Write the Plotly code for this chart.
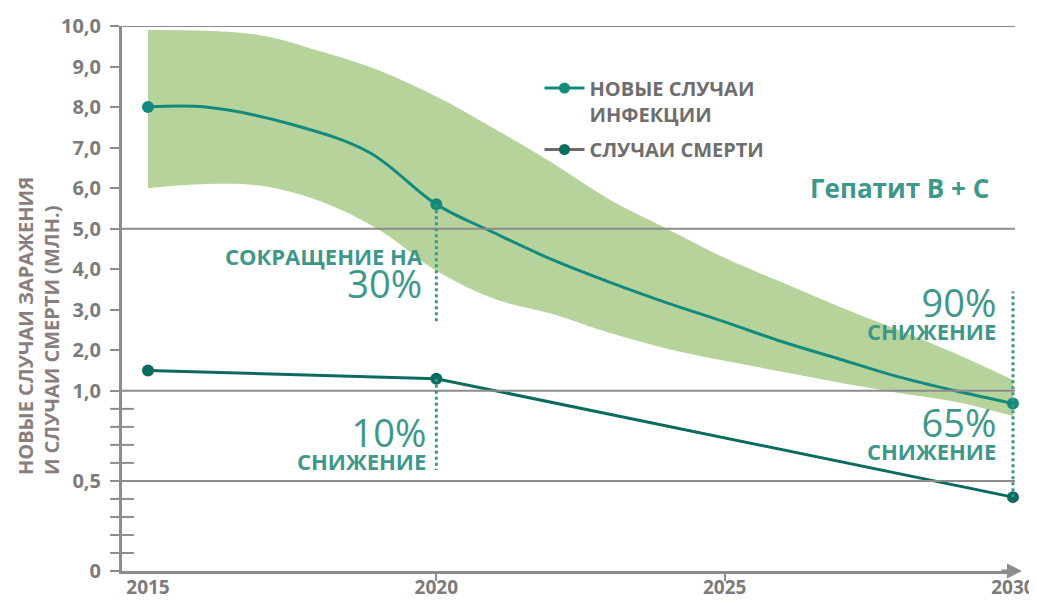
import plotly.graph_objects as go

# ---------------- data ----------------
milestone_years = [2015, 2020, 2030]
new_infections = [8.0, 5.6, 0.93]        # million
deaths = [1.5, 1.3, 0.41]                # million

curve_years = [2015, 2016, 2017.5, 2018.84, 2020, 2021, 2022, 2023,
               2024, 2025, 2026, 2027, 2028, 2029, 2030]
infection_curve = [8.0, 8.0, 7.57, 6.88, 5.6, 4.9, 4.24, 3.68,
                   3.17, 2.70, 2.21, 1.78, 1.35, 1.0, 0.93]

band_years = [2015, 2016, 2017, 2018, 2019, 2020, 2021, 2022, 2023, 2024,
              2025, 2026, 2027, 2028, 2029, 2030]
band_upper = [9.9, 9.88, 9.76, 9.37, 8.91, 8.26, 7.47, 6.63, 5.72, 5.0,
              4.28, 3.67, 3.07, 2.51, 1.92, 1.27]
band_lower = [6.0, 6.1, 6.05, 5.67, 4.98, 3.96, 3.27, 2.90, 2.43, 2.04,
              1.74, 1.47, 1.20, 0.99, 0.94, 0.86]

y_tick_values = [0, 0.5, 1, 2, 3, 4, 5, 6, 7, 8, 9, 10]
y_tick_text = ["0", "0,5", "1,0", "2,0", "3,0", "4,0", "5,0", "6,0", "7,0",
               "8,0", "9,0", "10,0"]
y_minor_values = [0.1, 0.2, 0.3, 0.4, 0.6, 0.7, 0.8, 0.9]
grid_values = [0.5, 1, 5, 10]

x_tick_values = [2015, 2020, 2025, 2030]
x_tick_text = ["2015", "2020", "2025", "2030"]
x_minor_ticks = [2020, 2025]

# ---------------- styling ----------------
TEAL = "#138a7c"
DARK_TEAL = "#0c6b5f"
BAND = "#b7d39c"
GRAY = "#8c8c8c"
LABEL_GRAY = "#7b7b7b"
TEXT_TEAL = "#3d978b"
FONT = "Open Sans, Liberation Sans, sans-serif"

X_MIN, X_MAX = 2014.549, 2030.035


def ty(v):
    """Broken y scale: 0-1 expanded, 1-10 compressed (as in the original)."""
    return v if v <= 1 else 1 + (v - 1) * 0.225


fig = go.Figure()

# uncertainty band
fig.add_trace(go.Scatter(x=band_years, y=[ty(v) for v in band_upper], mode="lines",
                         line=dict(width=0, shape="spline", color=BAND),
                         showlegend=False, hoverinfo="skip"))
fig.add_trace(go.Scatter(x=band_years, y=[ty(v) for v in band_lower], mode="lines",
                         line=dict(width=0, shape="spline", color=BAND),
                         fill="tonexty", fillcolor=BAND,
                         showlegend=False, hoverinfo="skip"))

# new infections curve + milestone markers
fig.add_trace(go.Scatter(x=curve_years, y=[ty(v) for v in infection_curve], mode="lines",
                         line=dict(width=3, shape="spline", smoothing=1.0, color=TEAL),
                         showlegend=False, hoverinfo="skip"))
fig.add_trace(go.Scatter(x=milestone_years, y=[ty(v) for v in new_infections], mode="markers",
                         marker=dict(size=12, color=TEAL), cliponaxis=False,
                         showlegend=False))

# deaths
fig.add_trace(go.Scatter(x=milestone_years, y=[ty(v) for v in deaths], mode="lines+markers",
                         line=dict(width=3, color=DARK_TEAL),
                         marker=dict(size=12, color=DARK_TEAL), cliponaxis=False,
                         showlegend=False))

# minor crossing ticks on the y axis (0 - 1 part)
fig.add_trace(go.Scatter(x=[X_MIN] * len(y_minor_values), y=[ty(v) for v in y_minor_values],
                         mode="markers", cliponaxis=False,
                         marker=dict(symbol="line-ew", size=17,
                                     line=dict(width=2, color=GRAY)),
                         showlegend=False, hoverinfo="skip"))

# legend entries
fig.add_trace(go.Scatter(x=[None], y=[None], mode="lines+markers",
                         name="НОВЫЕ СЛУЧАИ<br>ИНФЕКЦИИ",
                         line=dict(width=3, color=TEAL),
                         marker=dict(size=11, color=TEAL), legend="legend"))
fig.add_trace(go.Scatter(x=[None], y=[None], mode="lines+markers",
                         name="СЛУЧАИ СМЕРТИ",
                         line=dict(width=3, color="#6b6b6b"),
                         marker=dict(size=11, color=DARK_TEAL), legend="legend2"))

# gridlines
for g in grid_values:
    fig.add_shape(type="line", xref="paper", x0=0, x1=1, yref="y", y0=ty(g), y1=ty(g),
                  line=dict(color=GRAY, width=2), layer="above")

# dotted reference lines
dot = dict(color=TEXT_TEAL, width=3, dash="dot")
fig.add_shape(type="line", x0=2020, x1=2020, y0=ty(new_infections[1]), y1=ty(2.7),
              line=dot, layer="above")
fig.add_shape(type="line", x0=2020, x1=2020, y0=ty(deaths[1]), y1=ty(0.56),
              line=dot, layer="above")
fig.add_shape(type="line", x0=2030, x1=2030, y0=ty(deaths[2]), y1=ty(3.45),
              line=dot, layer="above")


# text annotations (two-line groups share one text block)
def note(text, xp, yp, size, yanchor="bottom", bold=False):
    fig.add_annotation(text=text, xref="paper", yref="paper", x=xp, y=yp,
                       xanchor="right", yanchor=yanchor, align="right", showarrow=False,
                       font=dict(family=FONT, size=size, color=TEXT_TEAL,
                                 weight="bold" if bold else "normal"))


BIG = "<span style='font-size:38px'>{}</span>"
SMALL = "<b><span style='font-size:22px'>{}</span></b>"

note(SMALL.format("СОКРАЩЕНИЕ НА") + "<br>" + BIG.format("30%"), 0.3393, 0.4771, 25)
note(BIG.format("10%") + "<br>" + SMALL.format("СНИЖЕНИЕ"), 0.3427, 0.1705, 18)
note(BIG.format("90%") + "<br>" + SMALL.format("СНИЖЕНИЕ"), 0.981, 0.4085, 18)
note(BIG.format("65%") + "<br>" + SMALL.format("СНИЖЕНИЕ"), 0.981, 0.1890, 18)
note("Гепатит В + С", 0.9731, 0.7028, 26, yanchor="middle", bold=True)

# y axis title
fig.add_annotation(text="НОВЫЕ СЛУЧАИ ЗАРАЖЕНИЯ<br>И СЛУЧАИ СМЕРТИ (МЛН.)",
                   xref="paper", yref="paper", x=-0.094, y=0.4495,
                   xanchor="center", yanchor="middle", textangle=-90, align="left",
                   showarrow=False,
                   font=dict(family=FONT, size=20, color="#8a7d7d", weight="bold"))

# x axis arrow head
fig.add_annotation(text="", xref="paper", yref="paper", x=1.0078, y=0,
                   ax=-22, ay=0, showarrow=True, arrowhead=2, arrowsize=1,
                   arrowwidth=3, arrowcolor=GRAY)

legend_font = dict(family=FONT, size=20, color="#6e6e6e", weight="bold")
# the page body adds an 8px offset, so the figure is 8px smaller than the window
fig.update_layout(
    width=1029, height=596,
    margin=dict(l=114, r=22, t=18, b=33),
    paper_bgcolor="white", plot_bgcolor="white",
    legend=dict(x=0.4675, y=0.922, xanchor="left", yanchor="top",
                font=legend_font, valign="top", itemwidth=40,
                bgcolor="rgba(0,0,0,0)"),
    legend2=dict(x=0.4675, y=0.8092, xanchor="left", yanchor="top",
                 font=legend_font, valign="top", itemwidth=40,
                 bgcolor="rgba(0,0,0,0)"),
    xaxis=dict(range=[X_MIN, X_MAX], tickvals=x_tick_values, ticktext=x_tick_text,
               ticks="", showline=True, linewidth=3, linecolor=GRAY, automargin=False,
               showgrid=False, zeroline=False, ticklabelstandoff=-3,
               tickfont=dict(family=FONT, size=19, color=LABEL_GRAY, weight="bold"),
               minor=dict(tickvals=x_minor_ticks, ticks="outside", ticklen=7,
                          tickwidth=2, tickcolor=GRAY)),
    yaxis=dict(range=[0, ty(10)], tickvals=[ty(v) for v in y_tick_values],
               ticktext=y_tick_text, ticks="outside", ticklen=9, tickwidth=2,
               tickcolor=GRAY, showline=True, linewidth=3, linecolor=GRAY,
               showgrid=False, zeroline=False, ticklabelstandoff=5, automargin=False,
               tickfont=dict(family=FONT, size=20, color=LABEL_GRAY, weight="bold")),
)

fig.write_html("out.html")
